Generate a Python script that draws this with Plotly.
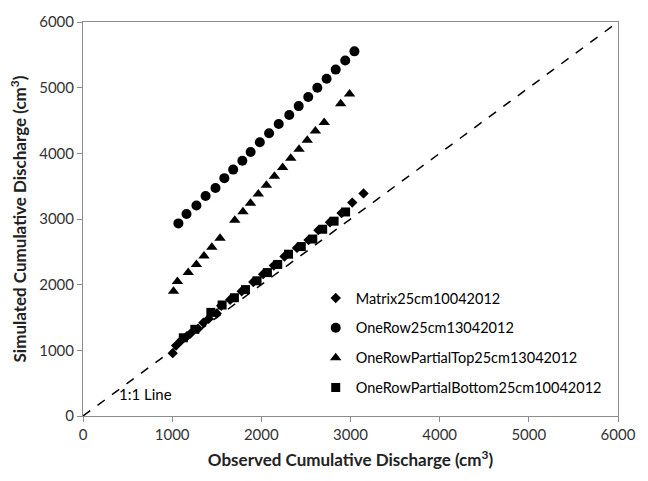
import plotly.graph_objects as go

# Observed vs simulated cumulative discharge (cm3)
matrix_obs = [1006, 1044, 1100, 1165, 1205, 1290, 1350, 1410, 1500, 1550, 1650,
              1780, 1910, 2020, 2140, 2260, 2400, 2530, 2640, 2770, 2900, 3020, 3146]
matrix_sim = [957, 1072, 1150, 1215, 1255, 1330, 1420, 1480, 1560, 1680, 1770,
              1900, 2040, 2160, 2290, 2430, 2560, 2680, 2830, 2950, 3090, 3250, 3390]

onerow_obs = [1070, 1161, 1272, 1375, 1486, 1585, 1684, 1787, 1880, 1983,
              2087, 2195, 2313, 2419, 2526, 2628, 2732, 2834, 2941, 3044]
onerow_sim = [2933, 3077, 3205, 3350, 3473, 3622, 3752, 3886, 4020, 4169,
              4307, 4447, 4585, 4719, 4858, 4998, 5136, 5275, 5415, 5553]

top_obs = [1015, 1059, 1180, 1272, 1357, 1445, 1537, 1702, 1794, 1878, 1966,
           2057, 2147, 2239, 2330, 2423, 2515, 2606, 2705, 2890, 2989]
top_sim = [1901, 2050, 2184, 2308, 2438, 2571, 2705, 2982, 3111, 3241, 3380,
           3513, 3652, 3786, 3926, 4064, 4198, 4340, 4471, 4754, 4902]

bottom_obs = [1125, 1254, 1434, 1560, 1698, 1823, 1952, 2068, 2184, 2305,
              2448, 2577, 2688, 2816, 2945]
bottom_sim = [1191, 1320, 1578, 1690, 1801, 1925, 2059, 2184, 2308, 2464,
              2580, 2695, 2844, 2967, 3107]

one_to_one = [0, 6000]
ticks = [0, 1000, 2000, 3000, 4000, 5000, 6000]

FONT = "Lato, 'Open Sans', sans-serif"

fig = go.Figure()

fig.add_trace(go.Scatter(x=one_to_one, y=one_to_one, mode="lines",
                         line=dict(color="black", width=1.5, dash="dash"),
                         showlegend=False, hoverinfo="skip"))

series = [
    ("Matrix25cm10042012", matrix_obs, matrix_sim, "diamond", 8),
    ("OneRow25cm13042012", onerow_obs, onerow_sim, "circle", 10),
    ("OneRowPartialTop25cm13042012", top_obs, top_sim, "triangle-up", 10),
    ("OneRowPartialBottom25cm10042012", bottom_obs, bottom_sim, "square", 9),
]
for name, xs, ys, sym, size in series:
    fig.add_trace(go.Scatter(x=xs, y=ys, mode="markers", name=name,
                             legendgroup=name,
                             marker=dict(symbol=sym, size=size, color="black",
                                         line=dict(width=0))))

fig.add_annotation(x=380, y=340, xref="x", yref="y", text="1:1 Line",
                   showarrow=False, xanchor="left", yanchor="middle",
                   font=dict(family=FONT, size=15, color="black"))

axis_common = dict(range=[0, 6000], tickvals=ticks, showgrid=False,
                   zeroline=False, showline=True, linecolor="#8c8c8c",
                   linewidth=1, mirror=True, ticks="outside", ticklen=5,
                   tickcolor="#8c8c8c", tickfont=dict(family=FONT, size=15, color="#333"))

fig.update_xaxes(**axis_common,
                 title=dict(text="<b>Observed Cumulative Discharge (cm<sup>3</sup>)</b>",
                            font=dict(family=FONT, size=17, color="#222"), standoff=12))
fig.update_yaxes(**axis_common,
                 title=dict(text="<b>Simulated Cumulative Discharge (cm<sup>3</sup>)</b>",
                            font=dict(family=FONT, size=17, color="#222"), standoff=8))

fig.update_layout(
    width=648, height=481,
    margin=dict(l=83, r=21, t=13, b=65),
    plot_bgcolor="white", paper_bgcolor="white",
    font=dict(family=FONT, color="black"),
    legend=dict(x=0.435, y=0.34, xanchor="left", yanchor="top",
                bgcolor="rgba(0,0,0,0)", tracegroupgap=8,
                font=dict(family=FONT, size=14.5, color="black"),
                itemwidth=30),
)

fig.write_html("out.html")
